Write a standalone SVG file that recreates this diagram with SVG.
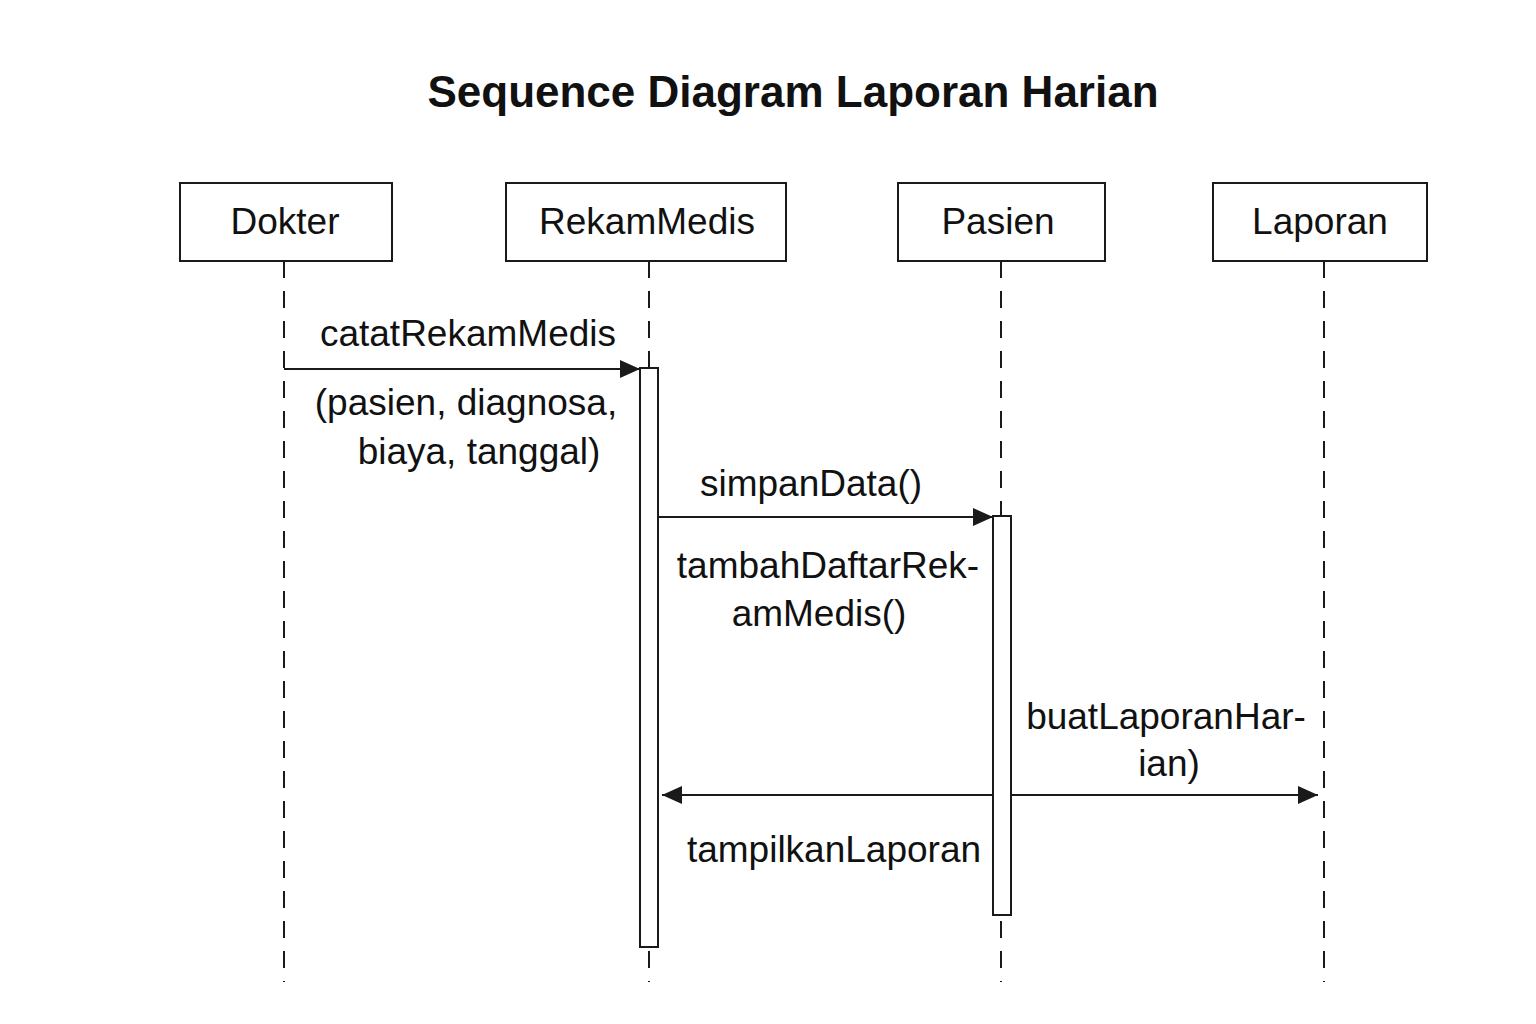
<svg xmlns="http://www.w3.org/2000/svg" width="1536" height="1024" viewBox="0 0 1536 1024">
<style>
  .box { fill: #ffffff; stroke: #1a1a1a; stroke-width: 2; }
  .life { stroke: #1a1a1a; stroke-width: 2; stroke-dasharray: 17 13; fill: none; }
  .act { fill: #ffffff; stroke: #1a1a1a; stroke-width: 2; }
  .msg { stroke: #1a1a1a; stroke-width: 2; fill: none; }
  .lbl { font-family: "Liberation Sans", Arial, Helvetica, sans-serif; font-size: 37px; fill: #111111; text-anchor: middle; }
  .txt { font-family: "Liberation Sans", Arial, Helvetica, sans-serif; font-size: 37px; fill: #111111; text-anchor: middle; }
  .title { font-family: "Liberation Sans", Arial, Helvetica, sans-serif; font-size: 44px; font-weight: bold; fill: #111111; text-anchor: middle; }
</style>
<defs>
  <marker id="arrL" viewBox="0 0 10 10" refX="10" refY="5" markerWidth="20" markerHeight="20" markerUnits="userSpaceOnUse" orient="auto-start-reverse">
    <path d="M0,0.5 L10,5 L0,9.5 Z" fill="#1a1a1a"/>
  </marker>
</defs>
<rect width="1536" height="1024" fill="#ffffff"/>
<text class="title" x="793" y="107">Sequence Diagram Laporan Harian</text>

<g id="lifelines">
  <line class="life" x1="284" y1="261" x2="284" y2="982"/>
  <line class="life" x1="649" y1="261" x2="649" y2="982"/>
  <line class="life" x1="1001" y1="261" x2="1001" y2="982"/>
  <line class="life" x1="1324" y1="261" x2="1324" y2="982"/>
</g>

<g id="node-dokter">
  <rect class="box" x="180" y="183" width="212" height="78"/>
  <text class="lbl" x="285" y="234">Dokter</text>
</g>
<g id="node-rekammedis">
  <rect class="box" x="506" y="183" width="280" height="78"/>
  <text class="lbl" x="647" y="234">RekamMedis</text>
</g>
<g id="node-pasien">
  <rect class="box" x="898" y="183" width="207" height="78"/>
  <text class="lbl" x="998" y="234">Pasien</text>
</g>
<g id="node-laporan">
  <rect class="box" x="1213" y="183" width="214" height="78"/>
  <text class="lbl" x="1320" y="234">Laporan</text>
</g>

<g id="connectors">
  <line class="msg" x1="284" y1="369" x2="640" y2="369" marker-end="url(#arrL)"/>
  <line class="msg" x1="658" y1="517" x2="993" y2="517" marker-end="url(#arrL)"/>
  <line class="msg" x1="662" y1="795" x2="1318" y2="795" marker-start="url(#arrL)" marker-end="url(#arrL)"/>
</g>

<g id="activations">
  <rect id="act-rekammedis" class="act" x="640" y="368" width="18" height="579"/>
  <rect id="act-pasien" class="act" x="993" y="516" width="18" height="399"/>
</g>

<g id="labels">
  <text class="txt" x="468" y="346">catatRekamMedis</text>
  <text class="txt" x="466" y="415">(pasien, diagnosa,</text>
  <text class="txt" x="479" y="464">biaya, tanggal)</text>
  <text class="txt" x="811" y="496">simpanData()</text>
  <text class="txt" x="828" y="578">tambahDaftarRek-</text>
  <text class="txt" x="819" y="626">amMedis()</text>
  <text class="txt" x="1166" y="729">buatLaporanHar-</text>
  <text class="txt" x="1169" y="776">ian)</text>
  <text class="txt" x="834" y="862">tampilkanLaporan</text>
</g>
</svg>
